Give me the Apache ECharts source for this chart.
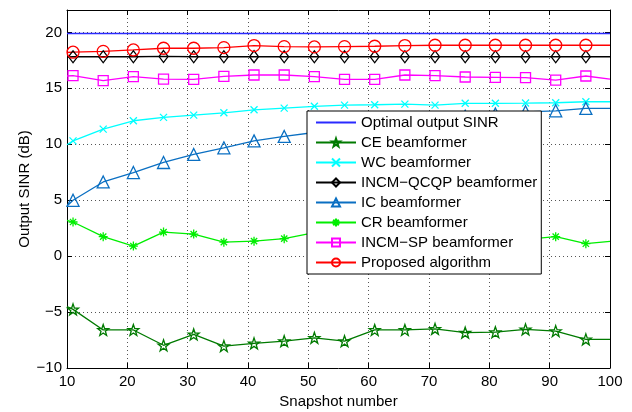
<!DOCTYPE html>
<html>
<head>
<meta charset="utf-8">
<script src="https://cdn.jsdelivr.net/npm/echarts@6/dist/echarts.min.js"></script>
<style>
  html, body { margin: 0; padding: 0; background: #fff; }
  #main { width: 632px; height: 412px; }
</style>
</head>
<body>
<div id="main"></div>
<script>
var chartDom = document.getElementById('main');
var myChart = echarts.init(chartDom);
var option;

// snapshot positions (first and last are the line ends, no marker)
var snapshots = [10, 11, 16, 21, 26, 31, 36, 41, 46, 51, 56, 61, 66, 71, 76, 81, 86, 91, 96, 100];

var optimalSinr = 19.9;
var ceValues = [-4.5, -4.76, -6.6, -6.6, -7.97, -7.0, -8.04, -7.8, -7.6, -7.3, -7.6, -6.6, -6.6, -6.5, -6.84, -6.8, -6.55, -6.7, -7.44, -7.44];
var wcValues = [9.95, 10.3, 11.35, 12.1, 12.4, 12.6, 12.81, 13.08, 13.23, 13.39, 13.5, 13.53, 13.59, 13.5, 13.66, 13.66, 13.68, 13.71, 13.8, 13.8];
var qcqpValues = [17.8, 17.82, 17.82, 17.82, 17.85, 17.82, 17.82, 17.83, 17.82, 17.82, 17.82, 17.82, 17.82, 17.82, 17.82, 17.82, 17.82, 17.82, 17.82, 17.82];
var icValues = [4.48, 4.99, 6.63, 7.47, 8.37, 9.09, 9.68, 10.3, 10.7, 11.05, 11.4, 11.75, 12.05, 12.3, 12.5, 12.7, 12.9, 12.99, 13.2, 13.2];
var crValues = [3.2, 3.05, 1.74, 0.9, 2.15, 1.97, 1.25, 1.34, 1.56, 2.1, 1.9, 1.6, 2.1, 1.7, 1.4, 1.8, 1.5, 1.74, 1.11, 1.32];
var spValues = [16.1, 16.13, 15.68, 16.04, 15.83, 15.8, 16.07, 16.19, 16.19, 16.04, 15.8, 15.8, 16.19, 16.13, 16.01, 15.98, 15.95, 15.74, 16.1, 15.83];
var proposedValues = [18.2, 18.23, 18.3, 18.43, 18.58, 18.58, 18.64, 18.82, 18.73, 18.7, 18.73, 18.76, 18.82, 18.85, 18.85, 18.85, 18.85, 18.85, 18.85, 18.85];

var xTicks = [10, 20, 30, 40, 50, 60, 70, 80, 90, 100];
var yTicks = [-10, -5, 0, 5, 10, 15, 20];

var FONT = 'Liberation Sans, Arial, Helvetica, sans-serif';

var starPath = 'path://M10,0L12.35,6.76L19.51,6.91L13.8,11.24L15.88,18.09L10,14L4.12,18.09L6.2,11.24L0.49,6.91L7.65,6.76Z';
var crossPath = 'path://M0,0L10,10M10,0L0,10';
var asteriskPath = 'path://M5,0L5,10M0,5L10,5M1.5,1.5L8.5,8.5M8.5,1.5L1.5,8.5';

function toData(values) {
    return values.map(function (v, i) {
        var item = { value: [snapshots[i], v] };
        if (i === 0 || i === values.length - 1) item.symbol = 'none';
        return item;
    });
}

function makeSeries(name, values, color, symbol, size, fill) {
    return {
        name: name,
        type: 'line',
        data: toData(values),
        color: color,
        symbol: symbol,
        symbolSize: size,
        showAllSymbol: true,
        lineStyle: { color: color, width: 1.3 },
        itemStyle: { color: fill || 'rgba(255,255,255,0)', borderColor: color, borderWidth: 1.3 },
        emphasis: { disabled: true },
        animation: false,
        z: 3
    };
}

function minusFmt(v) {
    return String(v).replace('-', '\u2212');
}

var legendNames = [
    'Optimal output SINR',
    'CE beamformer',
    'WC beamformer',
    'INCM\u2212QCQP beamformer',
    'IC beamformer',
    'CR beamformer',
    'INCM\u2212SP beamformer',
    'Proposed algorithm'
];

var optimalSeries = makeSeries(legendNames[0], snapshots.map(function () { return optimalSinr; }), '#2a2aff', 'none', 0);

var legendData = legendNames.map(function (n, i) {
    if (i === 0) {
        return { name: n, itemStyle: { color: 'rgba(0,0,0,0)', borderColor: 'rgba(0,0,0,0)' } };
    }
    return { name: n };
});

option = {
    backgroundColor: '#fff',
    textStyle: { fontFamily: FONT },
    animation: false,
    grid: { left: 67, right: 22, top: 10, bottom: 44, show: false, outerBoundsMode: 'none', containLabel: false },
    legend: {
        orient: 'vertical',
        left: 307,
        top: 111,
        itemWidth: 40,
        itemHeight: 10,
        itemGap: 5,
        padding: [4, 4, 4, 8],
        backgroundColor: '#fff',
        borderColor: '#000',
        borderWidth: 1,
        borderRadius: 0,
        textStyle: { fontSize: 15, color: '#000', fontFamily: FONT },
        data: legendData,
        selectedMode: false,
        z: 10
    },
    xAxis: [{
        type: 'value',
        min: 10,
        max: 100,
        interval: 10,
        name: 'Snapshot number',
        nameLocation: 'middle',
        nameGap: 26,
        nameMoveOverlap: false,
        nameTextStyle: { fontSize: 15, color: '#000', fontFamily: FONT },
        axisLine: { show: true, onZero: false, lineStyle: { color: '#000', width: 1 } },
        axisTick: { show: true, inside: true, length: 5, lineStyle: { color: '#000' } },
        axisLabel: {
            fontSize: 15, color: '#000', margin: 6, fontFamily: FONT,
            formatter: function (v) { return xTicks.indexOf(v) >= 0 ? minusFmt(v) : ''; }
        },
        splitLine: { show: true, lineStyle: { color: '#555', type: [1, 3], width: 1 } }
    }, {
        type: 'value',
        position: 'top',
        min: 10,
        max: 100,
        interval: 10,
        axisLine: { show: true, onZero: false, lineStyle: { color: '#000', width: 1 } },
        axisTick: { show: true, inside: true, length: 5, lineStyle: { color: '#000' } },
        axisLabel: { show: false },
        splitLine: { show: false }
    }],
    yAxis: [{
        type: 'value',
        min: -10,
        max: 22,
        interval: 5,
        name: 'Output SINR (dB)',
        nameLocation: 'middle',
        nameGap: 35,
        nameMoveOverlap: false,
        nameTextStyle: { fontSize: 15, color: '#000', fontFamily: FONT },
        axisLine: { show: true, onZero: false, lineStyle: { color: '#000', width: 1 } },
        axisTick: { show: true, inside: true, length: 5, lineStyle: { color: '#000' } },
        axisLabel: {
            fontSize: 15, color: '#000', margin: 5, fontFamily: FONT,
            formatter: function (v) { return yTicks.indexOf(v) >= 0 ? minusFmt(v) : ''; }
        },
        splitLine: { show: true, lineStyle: { color: '#555', type: [1, 3], width: 1 } }
    }, {
        type: 'value',
        position: 'right',
        min: -10,
        max: 22,
        interval: 5,
        axisLine: { show: true, onZero: false, lineStyle: { color: '#000', width: 1 } },
        axisTick: { show: true, inside: true, length: 5, lineStyle: { color: '#000' } },
        axisLabel: { show: false },
        splitLine: { show: false }
    }],
    series: [
        optimalSeries,
        makeSeries(legendNames[1], ceValues, '#007a00', starPath, 11),
        makeSeries(legendNames[2], wcValues, '#00ffff', crossPath, 7),
        makeSeries(legendNames[3], qcqpValues, '#000000', 'diamond', [9, 12]),
        makeSeries(legendNames[4], icValues, '#0a6fc2', 'triangle', 12),
        makeSeries(legendNames[5], crValues, '#00ee00', asteriskPath, 9),
        makeSeries(legendNames[6], spValues, '#ff00ff', 'rect', 10),
        makeSeries(legendNames[7], proposedValues, '#ff0000', 'circle', 12)
    ]
};

option && myChart.setOption(option);
</script>
</body>
</html>
